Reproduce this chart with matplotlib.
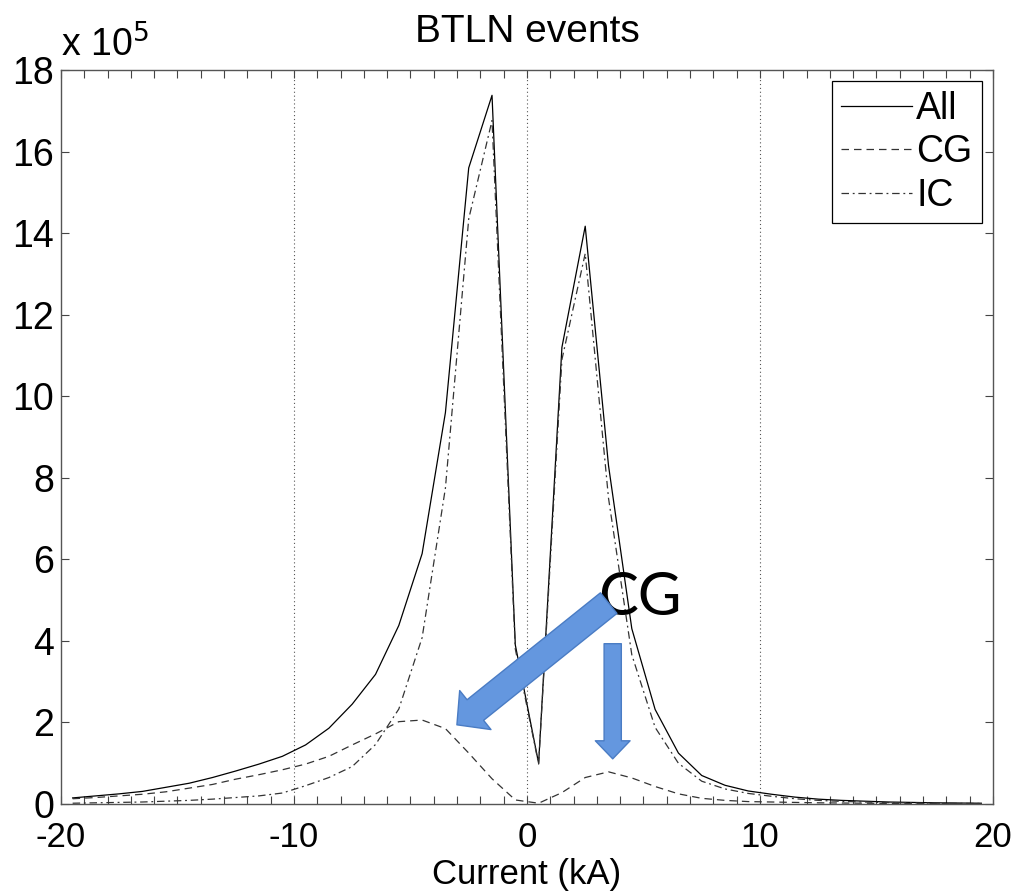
"""
BTLN events: peak current distribution for all / CG / IC flashes.
Values read off the reference, in units of 1e5 events per 1 kA bin.
"""

import numpy as np
import matplotlib.pyplot as plt

plt.rcParams["font.family"] = ["Liberation Sans", "DejaVu Sans"]
plt.rcParams["axes.unicode_minus"] = False

# bin centres (kA)
current = np.arange(-19.5, 20.0, 1.0)

all_events = [
    0.15, 0.20, 0.25, 0.31, 0.41, 0.51, 0.65, 0.81, 0.98, 1.17,
    1.45, 1.86, 2.45, 3.18, 4.38, 6.14, 9.60, 15.60, 17.38, 3.90,
    1.00, 11.20, 14.17, 8.30, 4.30, 2.32, 1.25, 0.70, 0.46, 0.32,
    0.24, 0.17, 0.12, 0.09, 0.07, 0.05, 0.04, 0.03, 0.025, 0.02,
]
cg_events = [
    0.13, 0.16, 0.20, 0.24, 0.30, 0.39, 0.48, 0.61, 0.72, 0.84,
    0.98, 1.17, 1.45, 1.72, 2.02, 2.06, 1.85, 1.25, 0.62, 0.10,
    0.02, 0.28, 0.65, 0.79, 0.64, 0.43, 0.25, 0.14, 0.09, 0.06,
    0.05, 0.04, 0.03, 0.025, 0.02, 0.015, 0.012, 0.01, 0.008, 0.006,
]
ic_events = [
    0.02, 0.03, 0.04, 0.05, 0.07, 0.09, 0.12, 0.16, 0.20, 0.27,
    0.45, 0.65, 0.92, 1.46, 2.33, 4.08, 7.75, 14.35, 16.76, 3.80,
    0.98, 10.90, 13.50, 7.50, 3.66, 1.88, 1.00, 0.56, 0.37, 0.26,
    0.19, 0.13, 0.09, 0.065, 0.05, 0.035, 0.028, 0.02, 0.017, 0.014,
]

FS = 27


def main():
    fig = plt.figure(figsize=(10.18, 8.91), dpi=100)
    ax = fig.add_axes([0.0599, 0.0976, 0.9155, 0.8238])

    ax.plot(current, all_events, color="black", lw=0.9, ls="-", label="All")
    ax.plot(current, cg_events, color="#333333", lw=0.9, ls=(0, (6, 4)), label="CG")
    ax.plot(current, ic_events, color="#333333", lw=0.9, ls=(0, (6, 3, 1.5, 3)), label="IC")

    ax.set_xlim(-20, 20)
    ax.set_ylim(0, 18)
    ax.set_xticks([-20, -10, 0, 10, 20])
    ax.set_xticks(np.arange(-20, 21, 1), minor=True)
    ax.set_yticks(np.arange(0, 19, 2))
    ax.tick_params(which="both", direction="in", top=True, right=True,
                   color="#444444", width=0.8, length=6)
    ax.tick_params(axis="x", which="major", pad=12, labelsize=25)
    ax.tick_params(axis="y", which="major", pad=5, labelsize=FS)
    for s in ax.spines.values():
        s.set_color("#555555")
        s.set_linewidth(1.0)

    for gx in [-10, 0, 10]:
        ax.axvline(gx, color="#555555", lw=0.8, ls=(0, (1, 2.5)), zorder=0)

    ax.set_xlabel("Current (kA)", fontsize=25)
    ax.xaxis.set_label_coords(0.5, -0.073)
    ax.set_title("BTLN events", fontsize=28, pad=20)
    ax.text(0.0, 1.008, "x 10$^{5}$", transform=ax.transAxes, fontsize=FS,
            ha="left", va="bottom")

    leg = ax.legend(loc="upper right", fontsize=FS, handlelength=1.9,
                    handletextpad=0.1, labelspacing=0.2, borderpad=0.25,
                    borderaxespad=0.3, fancybox=False, framealpha=1)
    leg.get_frame().set_edgecolor("black")
    leg.get_frame().set_linewidth(0.9)

    # slide annotations pointing at the CG humps
    ax.text(4.85, 5.05, "CG", fontsize=43, family=["Lato", "DejaVu Sans"],
            ha="center", va="center")
    ax.annotate("", xy=(-3.1, 1.9), xytext=(3.6, 4.97),
                arrowprops=dict(arrowstyle="simple,head_length=0.85,head_width=1.8,tail_width=0.95",
                                mutation_scale=20, fc="#6497df", ec="#4a7cc4", lw=1))
    ax.annotate("", xy=(3.68, 1.04), xytext=(3.68, 4.0),
                arrowprops=dict(arrowstyle="simple,head_length=0.65,head_width=1.25,tail_width=0.62",
                                mutation_scale=20, fc="#6497df", ec="#4a7cc4", lw=1))

    fig.savefig("out.png", dpi=100)
    plt.close(fig)


if __name__ == "__main__":
    main()
